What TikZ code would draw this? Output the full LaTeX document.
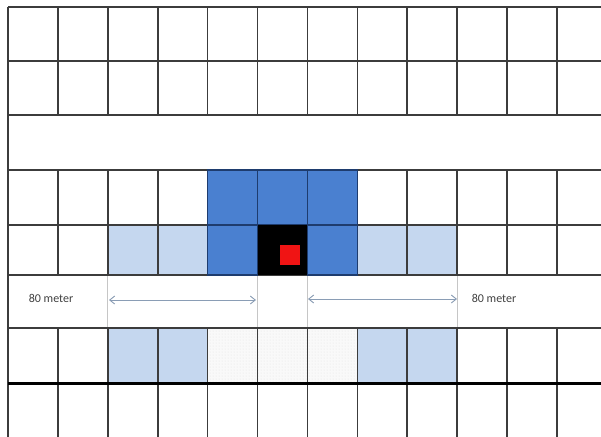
\documentclass[tikz,border=0pt]{standalone}
\usepackage{fontspec}
\setmainfont{Carlito}
\usetikzlibrary{arrows.meta,patterns}
\definecolor{gridc}{HTML}{3C3C3C}
\definecolor{darkb}{HTML}{4A80D0}
\definecolor{darkbl}{HTML}{1E3C6E}
\definecolor{lightb}{HTML}{C5D7EF}
\definecolor{arrowc}{HTML}{8A9DB5}
\definecolor{redc}{HTML}{F01414}
\definecolor{textc}{HTML}{404040}
\tikzset{
  gridline/.style={draw=gridc,line width=1.6pt},
  thinline/.style={draw=gray!45,line width=0.7pt},
  thickline/.style={draw=black,line width=3pt},
  darkcell/.style={fill=darkb,draw=darkbl,line width=1.2pt},
  lightcell/.style={fill=lightb},
  dotcell/.style={fill=gray!5,pattern=dots,pattern color=gray!22},
  dimarrow/.style={draw=arrowc,line width=0.9pt,{Straight Barb[length=5pt,width=8pt]}-{Straight Barb[length=5pt,width=8pt]}},
  label/.style={text=textc,font=\fontsize{12}{14}\selectfont,inner sep=0pt}
}
\begin{document}
\begin{tikzpicture}[x=1pt,y=-1pt]
\useasboundingbox (0,0) rectangle (601,436);
\fill[white] (0,0) rectangle (601,436);
\begin{scope}
\clip (0,0) rectangle (601,436);
% column positions x_i = 8 + 49.9 i
% light blue cells, row 5 (225-275) and row 7 (328-383)
\foreach \c in {2,3,7,8}{
  \fill[lightcell] ({8+49.9*\c},225) rectangle ({8+49.9*(\c+1)},275);
  \fill[lightcell] ({8+49.9*\c},328) rectangle ({8+49.9*(\c+1)},383);
}
% dotted cells row 7
\fill[gray!5] ({8+49.9*4},328) rectangle ({8+49.9*7},383);
\fill[dotcell] ({8+49.9*4},328) rectangle ({8+49.9*7},383);
% horizontal grid lines
\foreach \y in {7,61,115,170,225,275,328}{
  \draw[gridline] (8,\y) -- (610,\y);
}
% vertical grid lines
\foreach \c in {0,...,11}{
  \draw[gridline] ({8+49.9*\c},7) -- ({8+49.9*\c},115);
  \draw[gridline] ({8+49.9*\c},170) -- ({8+49.9*\c},275);
  \draw[gridline] ({8+49.9*\c},328) -- ({8+49.9*\c},440);
}
\draw[gridline] (8,7) -- (8,440);
% thin lines inside the measurement band
\foreach \c in {2,5,6,9}{
  \draw[thinline] ({8+49.9*\c},276) -- ({8+49.9*\c},327);
}
% dark blue cells
\foreach \c in {4,5,6}{
  \filldraw[darkcell] ({8+49.9*\c},170) rectangle ({8+49.9*(\c+1)},225);
}
\foreach \c in {4,6}{
  \filldraw[darkcell] ({8+49.9*\c},225) rectangle ({8+49.9*(\c+1)},275);
}
% black cell with red square
\fill[black] ({8+49.9*5},225) rectangle ({8+49.9*6},275);
\fill[redc] (280,245) rectangle (300,265);
% thick line
\draw[thickline] (8,383) -- (610,383);
\end{scope}
% labels and arrows
\node[label] (l1) at (51,298) {80 meter};
\node[label] (l2) at (494,298) {80 meter};
\coordinate (a1) at (109,300);
\coordinate (b1) at (256,300);
\coordinate (a2) at (308,299);
\coordinate (b2) at (457,299);
\draw[dimarrow] (a1) -- (b1);
\draw[dimarrow] (a2) -- (b2);
\end{tikzpicture}
\end{document}
